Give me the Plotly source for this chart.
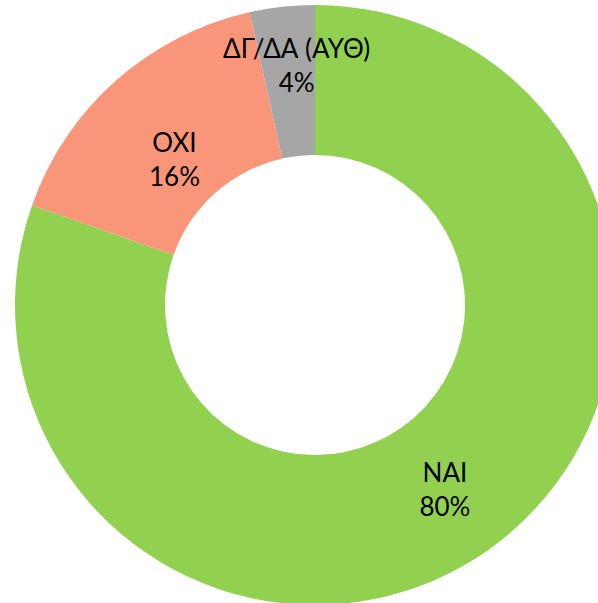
import math
import plotly.graph_objects as go

labels = ["NAI", "OXI", "ΔΓ/ΔΑ (ΑΥΘ)"]
values = [80.4, 16.1, 3.5]
colors = ["#92D050", "#F9967A", "#A6A6A6"]

# label placement (None = plotly's own inside placement;
# otherwise (radius fraction of outer radius, angle nudge in degrees))
label_place = [None, (0.68, -1.8), (0.815, 1.9)]

W, H = 630, 610
MT, MB = 5, 5
total = sum(values)
FONT = dict(family="Lato, sans-serif", size=26, color="#000000")

texts = []
annotations = []
cum = 0
R = min(W, H - MT - MB) / 2
cx, cy = W / 2, MT + (H - MT - MB) / 2
for lab, v, place in zip(labels, values, label_place):
    pct = f"{round(100 * v / total)}%"
    mid = (cum + v / 2) / total * 360
    cum += v
    if place is not None:
        texts.append("")
        rf, nudge = place
        r = R * rf
        ang = math.radians(mid + nudge)
        px = cx + r * math.sin(ang)
        py = cy - r * math.cos(ang)
        annotations.append(dict(
            x=px / W, y=1 - py / H,
            xref="paper", yref="paper", showarrow=False,
            text=f"{lab}<br>{pct}", align="center",
            xanchor="center", yanchor="middle",
            font=FONT,
        ))
    else:
        texts.append(f"{lab}<br>{pct}")

fig = go.Figure(go.Pie(
    labels=labels,
    values=values,
    hole=0.5,
    sort=False,
    direction="clockwise",
    rotation=0,
    marker=dict(colors=colors, line=dict(width=0)),
    text=texts,
    textinfo="text",
    textposition="inside",
    insidetextorientation="horizontal",
    textfont=FONT,
    showlegend=False,
    hoverinfo="label+percent",
    domain=dict(x=[0, 1], y=[0, 1]),
))

fig.update_layout(
    width=W, height=H,
    margin=dict(l=0, r=0, t=MT, b=MB, pad=0),
    paper_bgcolor="white",
    plot_bgcolor="white",
    annotations=annotations,
    uniformtext=dict(minsize=26, mode="show"),
)

fig.write_html(
    "out.html",
    config={"displayModeBar": False},
    post_script="document.body.style.margin='0';document.body.style.overflow='hidden';",
)
